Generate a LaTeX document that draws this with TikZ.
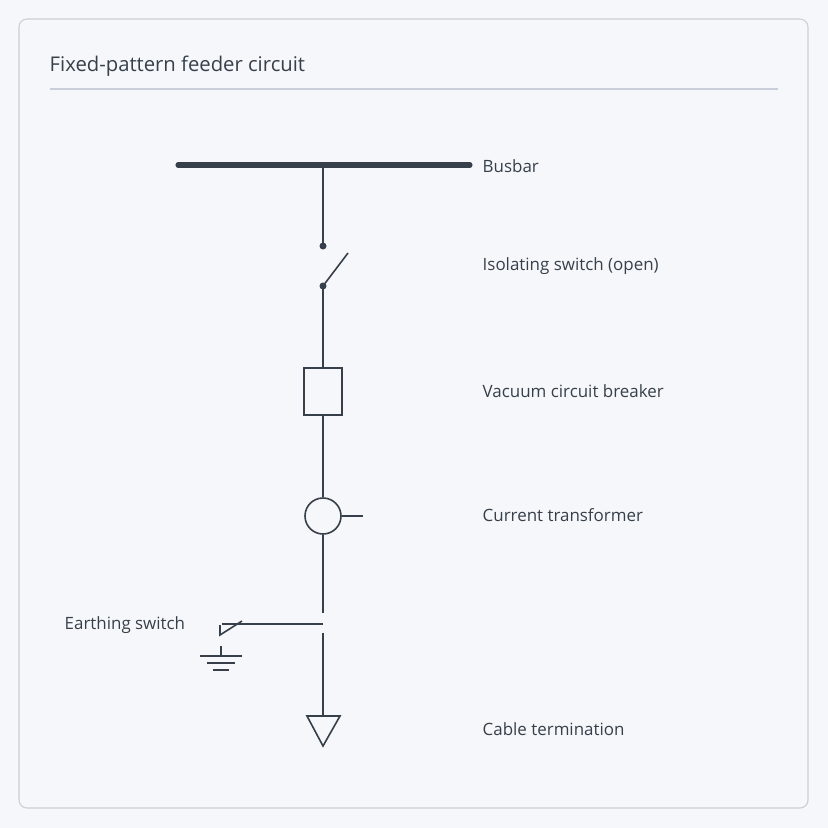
\documentclass[tikz,border=0pt]{standalone}
\usepackage{fontspec}
\setmainfont{Open Sans}
\begin{document}
\begin{tikzpicture}[x=0.75pt,y=-0.75pt,
  ln/.style={draw=ink,line width=1.2pt},
  lbl/.style={anchor=west,font=\fontsize{12.7}{15}\selectfont,text=ink}]
\definecolor{ink}{HTML}{37404A}
\definecolor{bgc}{HTML}{F5F7FA}
\definecolor{frm}{HTML}{C9CED8}
\fill[bgc] (0,0) rectangle (828,828);
\useasboundingbox (0,0) rectangle (828,828);
\draw[frm,fill=bgc,rounded corners=6pt,line width=0.8pt] (19,19) rectangle (808,808);
\node[lbl,font=\fontsize{15.2}{18}\selectfont] (title) at (45,66) {Fixed-pattern feeder circuit};
\draw[frm,line width=0.8pt] (50,89) -- (778,89);
\coordinate (bl) at (178,165); \coordinate (br) at (470,165);
\coordinate (bt) at (323,165);
\coordinate (s1) at (323,246); \coordinate (s2) at (323,286); \coordinate (sb) at (348,253);
\node[draw=ink,line width=1.2pt,minimum width=28.5pt,minimum height=35pt,inner sep=0] (cb) at (323,391.5) {};
\node[draw=ink,line width=1.2pt,circle,minimum size=27pt,inner sep=0] (ct) at (323,516) {};
\coordinate (ctt) at (363,516);
\coordinate (g1) at (323,613); \coordinate (g2) at (323,633);
\coordinate (ej) at (323,624); \coordinate (ee) at (222,624);
\coordinate (tt) at (323,716);
\draw[ink,line width=3.8pt,line cap=round] (bl) -- (br);
\draw[ln] (bt) -- (s1);
\fill[ink] (s1) circle (3.5); \fill[ink] (s2) circle (3.5);
\draw[ln] (s2) -- (sb);
\draw[ln] (s2) -- (cb.north);
\draw[ln] (cb.south) -- (ct.north);
\draw[ln] (ct.east) -- (ctt);
\draw[ln] (ct.south) -- (g1);
\draw[ln] (g2) -- (tt);
\draw[ln] (ej) -- (ee);
\draw[ln] (220,625) -- (220,635) -- (242,621);
\draw[ln] (221,646) -- (221,656);
\draw[ln] (200,656) -- (242,656);
\draw[ln] (207,663) -- (235,663);
\draw[ln] (213,670) -- (229,670);
\draw[ln,line join=miter] (307,716) -- (340,716) -- (323,746) -- cycle;
\node[lbl] (l1) at (478,166) {Busbar};
\node[lbl] (l2) at (478,266) {Isolating switch (open)};
\node[lbl] (l3) at (478,391) {Vacuum circuit breaker};
\node[lbl] (l4) at (478,515) {Current transformer};
\node[lbl] (l5) at (60,625) {Earthing switch};
\node[lbl] (l6) at (478,729) {Cable termination};
\end{tikzpicture}
\end{document}
